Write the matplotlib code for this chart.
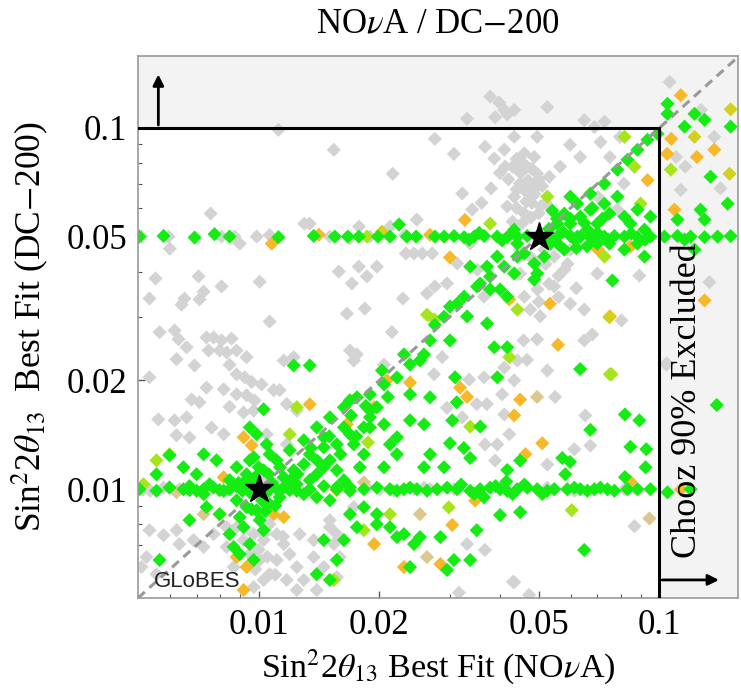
import numpy as np
import matplotlib.pyplot as plt
from matplotlib.patches import Rectangle
from matplotlib.ticker import FixedLocator, FixedFormatter, NullFormatter

plt.rcParams['font.family'] = 'Liberation Serif'
plt.rcParams['mathtext.fontset'] = 'stix'

# best-fit pairs (NOvA, DC-200)
gray_pts = [
    (0.0112, 0.0987), (0.0154, 0.0869), (0.0216, 0.0746), (0.0275, 0.0932), (0.00759, 0.0579),
    (0.0130, 0.0543), (0.0134, 0.0543), (0.0248, 0.0557), (0.0178, 0.0533), (0.0213, 0.0533),
    (0.0051, 0.050), (0.00596, 0.050), (0.00808, 0.050), (0.00871, 0.050), (0.00989, 0.050),
    (0.01065, 0.0505), (0.01505, 0.050), (0.01689, 0.0495), (0.01895, 0.050), (0.0232, 0.0505),
    (0.0060, 0.0463), (0.00897, 0.0478), (0.0233, 0.0449), (0.0244, 0.0449), (0.0256, 0.0449),
    (0.0271, 0.0449), (0.00553, 0.0383), (0.00708, 0.0388), (0.00808, 0.0364), (0.01006, 0.0375),
    (0.01585, 0.0400), (0.01778, 0.0413), (0.01862, 0.0388), (0.01972, 0.0413), (0.01708, 0.0371),
    (0.00534, 0.0337), (0.00653, 0.0337), (0.00642, 0.0324), (0.00712, 0.0335), (0.00729, 0.0352),
    (0.0229, 0.0337), (0.0263, 0.0348), (0.0275, 0.0364), (0.0166, 0.0306), (0.0184, 0.0316),
    (0.01065, 0.0291),
    (0.00566, 0.0272), (0.00617, 0.0275), (0.00631, 0.0260), (0.00741, 0.0263), (0.00772, 0.0263),
    (0.00808, 0.0258), (0.00856, 0.0261), (0.00661, 0.0247), (0.0075, 0.0242), (0.00799, 0.0242),
    (0.00832, 0.0239), (0.00881, 0.0242), (0.00933, 0.0232), (0.00624, 0.0229), (0.00692, 0.0220),
    (0.00846, 0.0221), (0.00881, 0.0208), (0.00923, 0.0204), (0.0096, 0.0198), (0.01017, 0.0195),
    (0.00534, 0.0204), (0.00741, 0.0191), (0.00818, 0.0189), (0.00881, 0.0183), (0.00933, 0.0182),
    (0.00977, 0.0176), (0.0109, 0.0188), (0.0068, 0.0177), (0.00712, 0.0174), (0.00846, 0.0169),
    (0.00917, 0.0163), (0.00972, 0.0165), (0.00562, 0.0156), (0.00617, 0.0155), (0.00661, 0.0158),
    (0.00624, 0.0141), (0.00672, 0.0139), (0.00763, 0.0148), (0.00818, 0.0142), (0.01155, 0.0227),
    (0.01223, 0.0232), (0.01727, 0.0227), (0.02054, 0.0221), (0.02738, 0.0208), (0.01689, 0.0242),
    (0.01758, 0.0236), (0.0215, 0.0272), (0.01128, 0.0188), (0.01175, 0.0172), (0.01245, 0.0165),
    (0.00516, 0.0100), (0.00537, 0.0099), (0.00579, 0.0101), (0.00634, 0.0100), (0.01689, 0.0099),
    (0.01862, 0.0101), (0.02007, 0.0100), (0.02175, 0.0099), (0.02441, 0.0100), (0.02585, 0.0101),
    (0.02676, 0.0100), (0.03073, 0.0100), (0.05248, 0.0101), (0.05464, 0.0100), (0.06131, 0.0099),
    (0.08175, 0.0100), (0.0866, 0.0101),
    (0.00534, 0.0077), (0.00579, 0.00746), (0.00624, 0.0077), (0.00688, 0.00723), (0.00729, 0.00692),
    (0.00772, 0.00751), (0.00832, 0.00785), (0.00525, 0.00649), (0.0051, 0.00609), (0.00556, 0.00582),
    (0.00634, 0.00705), (0.01065, 0.0080), (0.01109, 0.00751), (0.01029, 0.00723), (0.01155, 0.00705),
    (0.01195, 0.00661), (0.01245, 0.00609), (0.01109, 0.00637), (0.01175, 0.00561), (0.01065, 0.00582),
    (0.01006, 0.00637), (0.0095, 0.00661), (0.01029, 0.00561), (0.00972, 0.00536), (0.00866, 0.00609),
    (0.00917, 0.00723), (0.00881, 0.00785), (0.00972, 0.00751), (0.00832, 0.00692), (0.01266, 0.00751),
    (0.01372, 0.00723), (0.01505, 0.00785), (0.01567, 0.00751), (0.01372, 0.00649), (0.01454, 0.00609),
    (0.0154, 0.00705), (0.01594, 0.00649), (0.01296, 0.00561), (0.01396, 0.00526), (0.01567, 0.00571),
    (0.01245, 0.00526),
    (0.0100, 0.0068), (0.0105, 0.0065), (0.0098, 0.0060), (0.0110, 0.0058), (0.0103, 0.0075),
    (0.0115, 0.0074),
    (0.01047, 0.01059), (0.01109, 0.01032), (0.00933, 0.01032), (0.00599, 0.01013), (0.01175, 0.01331),
    (0.01047, 0.01419), (0.01505, 0.00821), (0.01727, 0.00892),
    (0.104, 0.0221), (0.0649, 0.0258), (0.068, 0.0268), (0.0525, 0.0213), (0.0549, 0.0180),
    (0.0653, 0.0160), (0.0672, 0.0132), (0.0613, 0.0129), (0.0525, 0.0117), (0.0866, 0.0079),
    (0.0434, 0.00553), (0.0367, 0.00679), (0.0331, 0.00705), (0.0410, 0.0217), (0.0434, 0.0200),
    (0.0405, 0.0183), (0.0371, 0.0172), (0.0410, 0.0161), (0.0422, 0.0142), (0.0394, 0.0133),
    (0.0389, 0.0120), (0.0367, 0.0133), (0.0350, 0.0172), (0.0335, 0.0201), (0.0365, 0.0204),
    (0.0322, 0.0158), (0.0295, 0.0168), (0.0287, 0.0232), (0.0495, 0.0260), (0.0458, 0.0258),
    (0.0467, 0.0228), (0.0442, 0.0227),
    (0.0378, 0.122), (0.0398, 0.1175), (0.041, 0.112), (0.0389, 0.107), (0.0417, 0.109),
    (0.0434, 0.112), (0.0525, 0.114), (0.0331, 0.106), (0.0649, 0.105), (0.0688, 0.1005),
    (0.0729, 0.104), (0.106, 0.134), (0.127, 0.112), (0.137, 0.0944), (0.142, 0.068),
    (0.113, 0.0673), (0.116, 0.0781), (0.110, 0.0830),
    (0.0307, 0.0847), (0.0322, 0.0658), (0.0341, 0.0594), (0.0367, 0.0886), (0.0387, 0.0822),
    (0.041, 0.087), (0.0412, 0.0781), (0.0434, 0.0944), (0.0449, 0.0781), (0.0467, 0.0781),
    (0.0495, 0.0747), (0.0495, 0.0944), (0.0449, 0.0701), (0.0475, 0.0701), (0.0434, 0.0644),
    (0.0417, 0.0606), (0.0458, 0.0675), (0.0487, 0.083), (0.0531, 0.0732), (0.0565, 0.0781),
    (0.0598, 0.0897), (0.0634, 0.083), (0.0713, 0.0913), (0.0752, 0.083), (0.0797, 0.0944),
    (0.0702, 0.0644), (0.0815, 0.0701), (0.0785, 0.0594),
    (0.043, 0.055), (0.046, 0.058), (0.048, 0.062), (0.044, 0.060), (0.047, 0.066),
    (0.042, 0.072), (0.045, 0.075), (0.050, 0.058), (0.052, 0.062), (0.049, 0.068),
    (0.046, 0.085), (0.044, 0.082), (0.040, 0.075), (0.038, 0.068), (0.036, 0.062),
    (0.0455, 0.0545), (0.0478, 0.0565), (0.0505, 0.0605), (0.0465, 0.0625), (0.0488, 0.0655),
    (0.0440, 0.0675), (0.0470, 0.0715), (0.0500, 0.0720), (0.0455, 0.0800), (0.0480, 0.0770),
    (0.0430, 0.0780), (0.0510, 0.0690),
    (0.0449, 0.0460), (0.0476, 0.0440), (0.0496, 0.0421), (0.0516, 0.0460), (0.0546, 0.0440),
    (0.0579, 0.0405), (0.0599, 0.0460), (0.0635, 0.0478), (0.0449, 0.0395), (0.0496, 0.0357),
    (0.046, 0.0341), (0.0476, 0.0314), (0.0504, 0.0301), (0.0546, 0.0364), (0.0599, 0.0326),
    (0.0649, 0.0314), (0.070, 0.0395), (0.0394, 0.0440), (0.0351, 0.0405), (0.0365, 0.0341),
    (0.0295, 0.0371), (0.0313, 0.0421), (0.0337, 0.0478),
    (0.0520, 0.0420), (0.0560, 0.0390), (0.0530, 0.0370), (0.0500, 0.0330), (0.0560, 0.0340),
    (0.0620, 0.0360), (0.0590, 0.0420),
    (0.0804, 0.0293), (0.0891, 0.039), (0.1332, 0.0374), (0.1042, 0.0223),
    (0.0431, 0.00554), (0.0316, 0.00517), (0.0473, 0.00510),
]

green_pts = [
    # row at 0.05
    (0.00504, 0.0500), (0.00579, 0.0502), (0.00692, 0.0497), (0.00776, 0.0508), (0.00846, 0.0500),
    (0.0112, 0.0498), (0.01372, 0.0502), (0.01549, 0.0500), (0.01669, 0.0500), (0.01778, 0.0500),
    (0.01984, 0.0500), (0.02126, 0.0500), (0.02344, 0.0500), (0.0224, 0.0540), (0.0247, 0.0500),
    (0.02754, 0.0500), (0.02901, 0.0500), (0.03073, 0.0502), (0.03255, 0.0498), (0.03448, 0.0500),
    (0.03652, 0.0502), (0.03936, 0.0500), (0.04169, 0.0498), (0.04416, 0.0500), (0.04677, 0.0502),
    (0.04955, 0.0500), (0.05248, 0.0498), (0.05559, 0.0500), (0.05992, 0.0502), (0.06346, 0.0500),
    (0.06722, 0.0498), (0.07286, 0.0500), (0.07718, 0.0502), (0.08175, 0.0500), (0.0881, 0.0498),
    (0.09495, 0.0500), (0.1029, 0.0500), (0.1109, 0.0502), (0.1196, 0.0500), (0.1296, 0.0498),
    (0.1396, 0.0500), (0.1505, 0.0502),
    (0.0405, 0.0488), (0.0430, 0.0512), (0.0575, 0.0515), (0.0615, 0.0490), (0.0700, 0.0512),
    (0.0745, 0.0490), (0.0850, 0.0510), (0.0920, 0.0490), (0.0335, 0.0490), (0.0355, 0.0512),
    # row at 0.01
    (0.00504, 0.0100), (0.00556, 0.0099), (0.00599, 0.0101), (0.00649, 0.0100), (0.00672, 0.0102),
    (0.0070, 0.0099), (0.00729, 0.0100), (0.00772, 0.0101), (0.00818, 0.0099), (0.00846, 0.0100),
    (0.00881, 0.0102), (0.00917, 0.0100), (0.0095, 0.0098), (0.01065, 0.0100), (0.01155, 0.0101),
    (0.01245, 0.0099), (0.01341, 0.0100), (0.01454, 0.0102), (0.01567, 0.0100), (0.01689, 0.0099),
    (0.0183, 0.0100), (0.01972, 0.0101), (0.02126, 0.0100), (0.02213, 0.0099), (0.02304, 0.0100),
    (0.02385, 0.0101), (0.02483, 0.0100), (0.0263, 0.0099), (0.02786, 0.0100), (0.02951, 0.0101),
    (0.03126, 0.0100), (0.0337, 0.0099), (0.03569, 0.0100), (0.0378, 0.0101), (0.04004, 0.0100),
    (0.04169, 0.0099), (0.04416, 0.0100), (0.04677, 0.0101), (0.04955, 0.0100), (0.05248, 0.0099),
    (0.05464, 0.0100), (0.05888, 0.0100), (0.06131, 0.0101), (0.06346, 0.0100), (0.06607, 0.0099),
    (0.06879, 0.0100), (0.0712, 0.0101), (0.07413, 0.0100), (0.07718, 0.0099), (0.08318, 0.0100),
    (0.0881, 0.0100), (0.09495, 0.0100), (0.1047, 0.0098), (0.1196, 0.0100),
    (0.0320, 0.0103), (0.0345, 0.0097), (0.0390, 0.0102), (0.0430, 0.0097), (0.0460, 0.0103),
    (0.0510, 0.0097), (0.0365, 0.0095), (0.0415, 0.0105),
    # around the 0.01 point and along the diagonal
    (0.01109, 0.01202), (0.01195, 0.01282), (0.01296, 0.01366), (0.01396, 0.01483), (0.01505, 0.01581),
    (0.01632, 0.01685), (0.01758, 0.01796), (0.01895, 0.0183), (0.02054, 0.0195), (0.02213, 0.02038),
    (0.02385, 0.02214), (0.02585, 0.0236), (0.02676, 0.0258), (0.02526, 0.02272), (0.02304, 0.0236),
    (0.0203, 0.02131), (0.01223, 0.022), (0.01341, 0.022), (0.01029, 0.01664), (0.0095, 0.01483),
    (0.00989, 0.01419), (0.01047, 0.01331), (0.01065, 0.01249), (0.00972, 0.01226),
    (0.00881, 0.0115), (0.00933, 0.011), (0.00846, 0.01059), (0.00799, 0.00994), (0.00754, 0.01032),
    (0.00729, 0.00969), (0.00672, 0.00994), (0.00881, 0.00932), (0.00933, 0.00892), (0.00897, 0.00837),
    (0.00989, 0.00875), (0.01065, 0.00909), (0.01128, 0.0095), (0.01195, 0.00994), (0.01245, 0.01032),
    (0.01341, 0.01059), (0.01396, 0.011), (0.01454, 0.0115), (0.01505, 0.01202), (0.01567, 0.01128),
    (0.01632, 0.01059), (0.01689, 0.01013), (0.01296, 0.00969), (0.01396, 0.0095), (0.01505, 0.00932),
    (0.01567, 0.01013), (0.01155, 0.01079), (0.01223, 0.01128), (0.01296, 0.01172), (0.01341, 0.01249),
    (0.01454, 0.01306), (0.01567, 0.01331), (0.01689, 0.01419), (0.0183, 0.01483), (0.01895, 0.01581),
    (0.01972, 0.01685), (0.01632, 0.01483), (0.01454, 0.01392),
    (0.0150, 0.0140), (0.0160, 0.0125), (0.0175, 0.0140), (0.0140, 0.0120), (0.0125, 0.0110),
    (0.0135, 0.0130), (0.0170, 0.0160), (0.0185, 0.0170), (0.0210, 0.0180),
    (0.0095, 0.0103), (0.0104, 0.0097), (0.0108, 0.0104), (0.0098, 0.0108), (0.0102, 0.0093),
    (0.0091, 0.0099), (0.0112, 0.0099), (0.0106, 0.0110), (0.0093, 0.0106), (0.0110, 0.0090),
    (0.0118, 0.0103), (0.0089, 0.0104), (0.0100, 0.0115), (0.0113, 0.0115), (0.0122, 0.0108),
    (0.0096, 0.0088), (0.0104, 0.0087),
    (0.00846, 0.00751), (0.00917, 0.00785), (0.0095, 0.00705), (0.00972, 0.00637), (0.00897, 0.00661),
    (0.00866, 0.00692), (0.00799, 0.00853), (0.00741, 0.00892), (0.00672, 0.00821), (0.00566, 0.00637),
    (0.01029, 0.0077), (0.01006, 0.00821),
    (0.00556, 0.011), (0.00599, 0.01241), (0.00729, 0.01249), (0.00649, 0.0115), (0.007, 0.011),
    (0.00785, 0.01202), (0.0095, 0.01202), (0.01029, 0.01128),
    (0.01689, 0.01762), (0.01895, 0.01652), (0.02054, 0.01512), (0.02213, 0.01392), (0.02385, 0.01551),
    (0.02585, 0.01512), (0.02676, 0.01796), (0.02385, 0.0183), (0.02126, 0.01331), (0.02054, 0.0115),
    (0.02213, 0.01249), (0.01895, 0.01483), (0.01727, 0.01331), (0.0183, 0.01249), (0.01788, 0.0115),
    (0.02585, 0.0115), (0.02676, 0.01249),
    (0.0183, 0.00892), (0.01972, 0.00853), (0.02126, 0.00785), (0.02304, 0.00751), (0.02441, 0.00705),
    (0.02526, 0.00737), (0.02213, 0.00737), (0.01972, 0.008), (0.01758, 0.00785), (0.01632, 0.00723),
    (0.01454, 0.00723), (0.01396, 0.00582), (0.01567, 0.00637), (0.01505, 0.00561), (0.02385, 0.00609),
    (0.01689, 0.00853),
    # around the 0.05 point and along the diagonal
    (0.03002, 0.03203), (0.03255, 0.0341), (0.03508, 0.03637), (0.0378, 0.03877), (0.04097, 0.0413),
    (0.04416, 0.04402), (0.0275, 0.0285), (0.0290, 0.0300),
    (0.05788, 0.05787), (0.06237, 0.06166), (0.06722, 0.06572), (0.07286, 0.07003), (0.07852, 0.07656),
    (0.08318, 0.08158), (0.0881, 0.08694), (0.09333, 0.09267), (0.09886, 0.09626), (0.1047, 0.1093),
    (0.1047, 0.1165), (0.1155, 0.1007), (0.1223, 0.1093), (0.1296, 0.1052), (0.1341, 0.07321),
    (0.1505, 0.1007), (0.1266, 0.05935), (0.1296, 0.0557), (0.1109, 0.0557), (0.1155, 0.04905),
    (0.1223, 0.04603), (0.1479, 0.06166),
    (0.05992, 0.06449), (0.06346, 0.05677), (0.06722, 0.05935), (0.06998, 0.0543), (0.07286, 0.06166),
    (0.07499, 0.05787), (0.07852, 0.06449), (0.08175, 0.05677), (0.08463, 0.0543), (0.0881, 0.05935),
    (0.09173, 0.05226), (0.09495, 0.05677), (0.0881, 0.04781), (0.09173, 0.04402), (0.08175, 0.04603),
    (0.07499, 0.04781), (0.06998, 0.04781), (0.06607, 0.05226), (0.06237, 0.0500), (0.05992, 0.0543),
    (0.05559, 0.0543), (0.05343, 0.04781), (0.05788, 0.04603),
    (0.0530, 0.0525), (0.0555, 0.0560), (0.0600, 0.0560), (0.0650, 0.0545), (0.0560, 0.0475),
    (0.0620, 0.0465), (0.0680, 0.0600), (0.0720, 0.0560), (0.0660, 0.0470), (0.0540, 0.0590),
    (0.04341, 0.05226), (0.04416, 0.04781), (0.04598, 0.04487), (0.0487, 0.0421), (0.04955, 0.03953),
    (0.05158, 0.04402), (0.03936, 0.04402), (0.03715, 0.0413), (0.0337, 0.0413), (0.03569, 0.03708),
    (0.0378, 0.0357), (0.04004, 0.0357), (0.04169, 0.0341), (0.03126, 0.0326), (0.03311, 0.03007),
    (0.03715, 0.02874), (0.04341, 0.03953), (0.0487, 0.03802),
    # scattered, lower right
    (0.0634, 0.0215), (0.082, 0.0161), (0.0891, 0.0155), (0.0672, 0.0146), (0.0846, 0.0131),
    (0.0927, 0.0129), (0.0923, 0.0115), (0.082, 0.0108), (0.0572, 0.0122), (0.0598, 0.0119),
    (0.0582, 0.0110), (0.0649, 0.00679), (0.139, 0.0171), (0.0763, 0.0378),
    (0.0300, 0.0258), (0.0309, 0.0204), (0.0304, 0.0155), (0.0300, 0.0134), (0.0290, 0.0115),
    (0.0337, 0.00637), (0.0307, 0.00637), (0.0295, 0.00598), (0.0350, 0.0077), (0.0400, 0.00848),
    (0.0449, 0.00864), (0.0417, 0.0113), (0.0449, 0.0120), (0.0325, 0.0130), (0.0337, 0.0122),
    (0.0394, 0.0204), (0.0387, 0.0247), (0.0417, 0.0247), (0.0312, 0.0174), (0.0357, 0.0149),
    (0.0284, 0.00737),
]

lime_pts = [
    (0.01862, 0.0500), (0.0263, 0.0304), (0.0274, 0.0295), (0.00556, 0.01202), (0.00599, 0.01249),
    (0.00516, 0.01032), (0.01245, 0.01685), (0.01195, 0.01419), (0.01873, 0.01348), (0.02126, 0.00853),
    (0.0183, 0.0077), (0.0154, 0.00561), (0.01006, 0.00853), (0.0378, 0.0543), (0.0525, 0.0645),
    (0.0897, 0.0617), (0.0729, 0.0440), (0.1067, 0.0766), (0.0866, 0.0780), (0.0442, 0.0314),
    (0.0818, 0.0944), (0.0752, 0.0208), (0.0604, 0.00875), (0.0422, 0.0232), (0.0337, 0.0149),
    (0.0298, 0.00891), (0.0759, 0.0208),
]

yellow_pts = [
    (0.0203, 0.0516), (0.1505, 0.1125), (0.1223, 0.0944), (0.1496, 0.0746), (0.0750, 0.0299),
]

gold_pts = [
    (0.01078, 0.0478), (0.01413, 0.0506), (0.02676, 0.0506), (0.113, 0.123), (0.107, 0.0932),
    (0.1045, 0.0847), (0.124, 0.083), (0.137, 0.087), (0.0934, 0.0716), (0.109, 0.0594),
    (0.0846, 0.0469), (0.0702, 0.0460), (0.0533, 0.0326), (0.0752, 0.0301), (0.0422, 0.0335),
    (0.0327, 0.0556), (0.0300, 0.0438), (0.0558, 0.0251), (0.0449, 0.0177), (0.0434, 0.0160),
    (0.0331, 0.0180), (0.0318, 0.0191), (0.0510, 0.0134), (0.0463, 0.0125), (0.0347, 0.0093),
    (0.0304, 0.00796), (0.0284, 0.00621), (0.0846, 0.0105), (0.113, 0.00998), (0.1296, 0.0333),
    (0.01341, 0.01718), (0.00917, 0.01392), (0.0096, 0.01323), (0.00818, 0.01079), (0.00799, 0.00853),
    (0.0109, 0.00853), (0.01155, 0.00837), (0.01341, 0.00994), (0.01567, 0.00994), (0.0166, 0.01512),
    (0.01941, 0.01685), (0.02089, 0.0200), (0.02385, 0.01973), (0.01941, 0.00705), (0.02304, 0.00609),
    (0.00933, 0.00609), (0.00917, 0.00526), (0.00881, 0.00649),
]

tan_pts = [
    (0.0944, 0.0083), (0.0495, 0.0180), (0.0263, 0.00649), (0.00729, 0.00853), (0.00624, 0.00981),
    (0.0183, 0.01045), (0.02526, 0.00853),
]

true_x = [0.01, 0.05]
true_y = [0.01, 0.05]

ticks = [0.01, 0.02, 0.05, 0.1]
tick_labels = ['0.01', '0.02', '0.05', '0.1']
minor = [0.006, 0.007, 0.008, 0.009, 0.03, 0.04, 0.06, 0.07, 0.08, 0.09]

lo, hi_x, hi_y = 0.005, 0.157, 0.158
chooz = 0.1

fig = plt.figure(figsize=(7.41, 6.99), dpi=100)
ax = fig.add_axes([138/741, 101/699, 600/741, 542/699])
ax.set_xscale('log')
ax.set_yscale('log')
ax.set_xlim(lo, hi_x)
ax.set_ylim(lo, hi_y)

# excluded region shaded, allowed box white
ax.set_facecolor('#f3f3f3')
ax.add_patch(Rectangle((lo, lo), chooz - lo, chooz - lo, facecolor='white', edgecolor='none', zorder=0))

groups = [(gray_pts, '#d3d3d3'), (tan_pts, '#dcc78e'), (gold_pts, '#f7b92a'),
          (yellow_pts, '#d2d21e'), (lime_pts, '#a6e51c'), (green_pts, '#14ec14')]
for pts, col in groups:
    px, py = np.array(pts).T
    ax.scatter(px, py, marker='D', s=52, c=col, edgecolors='none', zorder=2)

ax.plot([lo, hi_x], [lo, hi_x], ls=(0, (3, 2)), color='#999999', lw=2.2, zorder=3)
ax.plot([lo, chooz], [chooz, chooz], color='black', lw=2.2, zorder=4)
ax.plot([chooz, chooz], [lo, chooz], color='black', lw=2.2, zorder=4)
ax.annotate('', xy=(0.00562, 0.143), xytext=(0.00562, 0.1),
            arrowprops=dict(arrowstyle='-|>', color='black', lw=2, mutation_scale=16), zorder=5)
ax.annotate('', xy=(0.143, 0.00561), xytext=(0.1, 0.00561),
            arrowprops=dict(arrowstyle='-|>', color='black', lw=2, mutation_scale=16), zorder=5)

ax.plot(true_x, true_y, marker='*', ls='none', ms=21, color='black', zorder=6)

ax.text(0.1175, 0.0176, 'Chooz 90% Excluded', rotation=90, ha='center', va='center', fontsize=26, zorder=7)
ax.text(0.026, 0.03, 'GLoBES', transform=ax.transAxes, ha='left', va='center',
        fontsize=16, family='Liberation Sans', color='#222222', zorder=7)

for axis in (ax.xaxis, ax.yaxis):
    axis.set_major_locator(FixedLocator(ticks))
    axis.set_major_formatter(FixedFormatter(tick_labels))
    axis.set_minor_locator(FixedLocator(minor))
    axis.set_minor_formatter(NullFormatter())
ax.tick_params(which='both', direction='in', top=False, right=False, color='#555555', labelsize=25)
ax.tick_params(which='major', length=5, width=1, pad=8)
ax.tick_params(which='minor', length=3, width=0.8)
for s in ax.spines.values():
    s.set_color('#999999')
    s.set_linewidth(1.2)

ax.set_xlabel(r'Sin$^2$2$\theta_{13}$ Best Fit (NO$\nu$A)', fontsize=24.5, labelpad=4)
ax.set_ylabel(r'Sin$^2$2$\theta_{13}$  Best Fit (DC$-$200)', fontsize=25.5, labelpad=10)
fig.text(438/741, 1 - 24/699, r'NO$\nu$A / DC$-$200', ha='center', va='center', fontsize=25)

fig.savefig('out.png', dpi=100)
